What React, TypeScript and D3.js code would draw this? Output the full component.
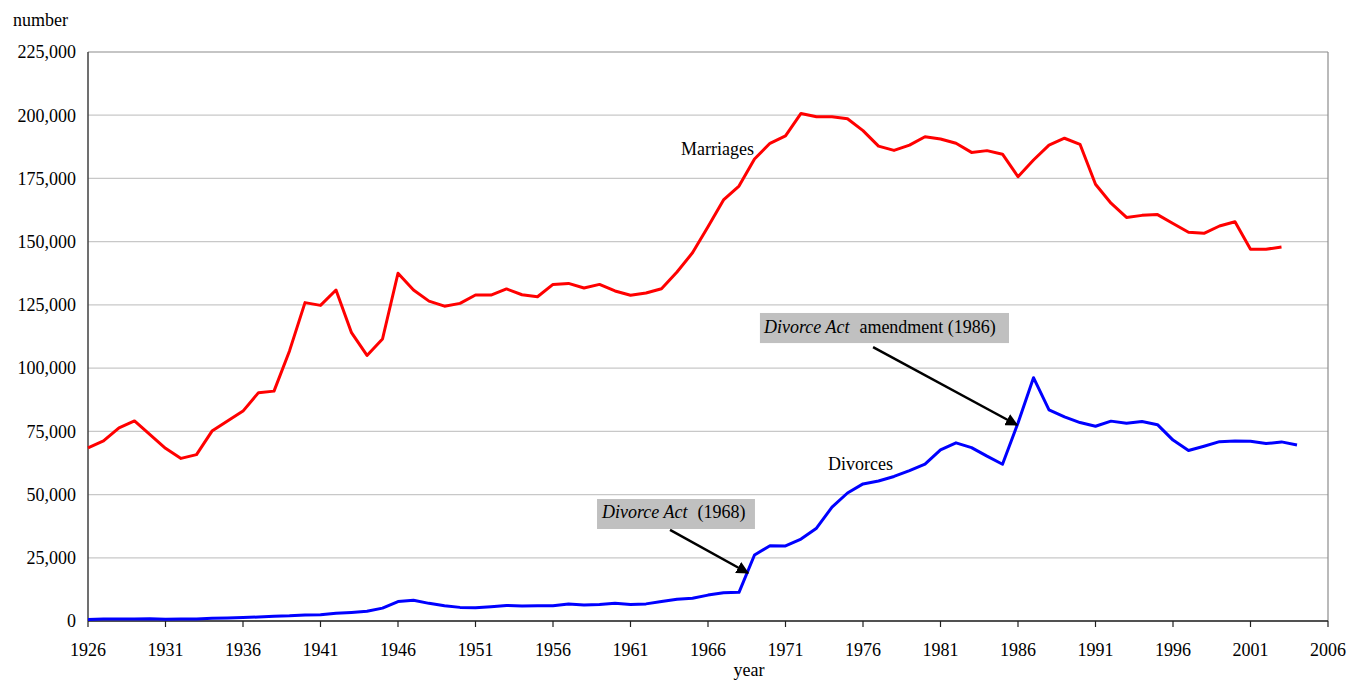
import * as d3 from "d3";

const WIDTH = 1351;
const HEIGHT = 681;
// plot box in page pixels
const PLOT = { left: 88, right: 1328, top: 52, bottom: 621 };

const FONT = "Liberation Serif, Times New Roman, DejaVu Serif, serif";

const marriageYears = d3.range(1926, 2004);
const marriages = [
  68500, 71200, 76400, 79100, 73700, 68300, 64300, 65800, 75100, 79100,
  83000, 90300, 90900, 106800, 125900, 124800, 130900, 114000, 105000, 111500,
  137500, 130900, 126500, 124500, 125600, 128900, 128900, 131300, 129000, 128200,
  133100, 133500, 131700, 133100, 130500, 128800, 129700, 131400, 138000, 145600,
  155900, 166500, 172000, 182700, 188900, 191800, 200700, 199400, 199400, 198600,
  193900, 187800, 186100, 188200, 191500, 190600, 188900, 185300, 186000, 184600,
  175700, 182300, 188200, 190900, 188500, 172700, 165200, 159600, 160400, 160700,
  157200, 153700, 153300, 156200, 157900, 147000, 147000, 147900,
];

const divorceYears = d3.range(1926, 2005);
const divorces = [
  608, 748, 785, 806, 875, 700, 838, 802, 1099, 1184,
  1350, 1569, 1923, 2073, 2416, 2462, 3091, 3398, 3827, 5101,
  7683, 8199, 6978, 6031, 5386, 5270, 5650, 6160, 5923, 6053,
  6002, 6688, 6279, 6543, 6980, 6563, 6768, 7686, 8623, 8974,
  10239, 11165, 11343, 26093, 29775, 29685, 32389, 36704, 45019, 50611,
  54207, 55370, 57155, 59474, 62019, 67671, 70436, 68567, 65172, 61980,
  78304, 96200, 83507, 80716, 78463, 77020, 79034, 78226, 78880, 77636,
  71528, 67408, 69088, 70910, 71144, 71110, 70155, 70828, 69600,
];

const xTicks = d3.range(1926, 2007, 5);
const yTicks = d3.range(0, 225001, 25000);

function App() {
  const x = d3.scaleLinear().domain([1926, 2006]).range([PLOT.left, PLOT.right]);
  const y = d3.scaleLinear().domain([0, 225000]).range([PLOT.bottom, PLOT.top]);

  const line = d3
    .line<[number, number]>()
    .x((d) => x(d[0]))
    .y((d) => y(d[1]));

  const marriagePath = line(marriageYears.map((yr, i) => [yr, marriages[i]]));
  const divorcePath = line(divorceYears.map((yr, i) => [yr, divorces[i]]));
  const fmt = d3.format(",");

  // annotation anchors in data units
  const box1 = { x0: 1958.84, x1: 1969.03, y0: 48240, y1: 36380 };
  const arrow1 = { from: [1963.55, 36000], to: [1968.58, 18980] };
  const box2 = { x0: 1969.35, x1: 1985.42, y0: 121800, y1: 109900 };
  const arrow2 = { from: [1976.65, 108300], to: [1985.94, 77500] };

  const txt = { fontFamily: FONT, fontSize: 18 };

  return (
    <svg
      width={WIDTH}
      height={HEIGHT}
      style={{ position: "absolute", left: 0, top: 0, display: "block", background: "#fff", fontFamily: FONT }}
    >
      <defs>
        <marker
          id="arrowhead"
          viewBox="0 0 10 10"
          refX={9}
          refY={5}
          markerWidth={5}
          markerHeight={5}
          orient="auto"
          markerUnits="strokeWidth"
        >
          <path d="M0,0 L10,5 L0,10 z" fill="#000" />
        </marker>
      </defs>

      {/* gridlines */}
      {yTicks.map((t) => (
        <line
          key={"g" + t}
          x1={PLOT.left}
          x2={PLOT.right}
          y1={y(t)}
          y2={y(t)}
          stroke={t === 225000 ? "#8c8c8c" : "#c8c8c8"}
          strokeWidth={1.2}
        />
      ))}
      {/* right border */}
      <line x1={PLOT.right} x2={PLOT.right} y1={PLOT.top} y2={PLOT.bottom} stroke="#8c8c8c" strokeWidth={1.2} />

      {/* axes */}
      <line x1={PLOT.left} x2={PLOT.left} y1={PLOT.top} y2={PLOT.bottom} stroke="#404040" strokeWidth={1.5} />
      <line x1={PLOT.left} x2={PLOT.right} y1={PLOT.bottom} y2={PLOT.bottom} stroke="#202020" strokeWidth={1.5} />

      {xTicks.map((t) => (
        <g key={"x" + t}>
          <line x1={x(t)} x2={x(t)} y1={PLOT.bottom} y2={PLOT.bottom + 6} stroke="#202020" strokeWidth={1.2} />
          <text x={x(t)} y={656} textAnchor="middle" style={txt} fill="#000">
            {t}
          </text>
        </g>
      ))}

      {yTicks.map((t) => (
        <text key={"y" + t} x={76} y={y(t)} dy="0.35em" textAnchor="end" style={txt} fill="#000">
          {fmt(t)}
        </text>
      ))}

      <text x={13} y={26} style={txt} fill="#000">
        number
      </text>
      <text x={749} y={676} textAnchor="middle" style={txt} fill="#000">
        year
      </text>

      {/* series */}
      <path d={marriagePath ?? ""} fill="none" stroke="#ff0000" strokeWidth={3} strokeLinejoin="round" />
      <path d={divorcePath ?? ""} fill="none" stroke="#0000ff" strokeWidth={3} strokeLinejoin="round" />

      {/* series labels */}
      <text x={x(1964.26)} y={y(184250)} style={txt} fill="#000">
        Marriages
      </text>
      <text x={x(1973.74)} y={y(59700)} style={txt} fill="#000">
        Divorces
      </text>

      {/* annotation 1 */}
      <rect
        x={x(box1.x0)}
        y={y(box1.y0)}
        width={x(box1.x1) - x(box1.x0)}
        height={y(box1.y1) - y(box1.y0)}
        fill="#c0c0c0"
      />
      <text x={x(box1.x0) + 5} y={y(box1.y0) + 19} style={txt} fill="#000">
        <tspan fontStyle="italic">Divorce Act</tspan>
        <tspan dx={10}>(1968)</tspan>
      </text>
      <line
        x1={x(arrow1.from[0])}
        y1={y(arrow1.from[1])}
        x2={x(arrow1.to[0])}
        y2={y(arrow1.to[1])}
        stroke="#000"
        strokeWidth={2.5}
        markerEnd="url(#arrowhead)"
      />

      {/* annotation 2 */}
      <rect
        x={x(box2.x0)}
        y={y(box2.y0)}
        width={x(box2.x1) - x(box2.x0)}
        height={y(box2.y1) - y(box2.y0)}
        fill="#c0c0c0"
      />
      <text x={x(box2.x0) + 4} y={y(box2.y0) + 20} style={txt} fill="#000">
        <tspan fontStyle="italic">Divorce Act</tspan>
        <tspan dx={10}>amendment (1986)</tspan>
      </text>
      <line
        x1={x(arrow2.from[0])}
        y1={y(arrow2.from[1])}
        x2={x(arrow2.to[0])}
        y2={y(arrow2.to[1])}
        stroke="#000"
        strokeWidth={2.5}
        markerEnd="url(#arrowhead)"
      />
    </svg>
  );
}

export default App;
